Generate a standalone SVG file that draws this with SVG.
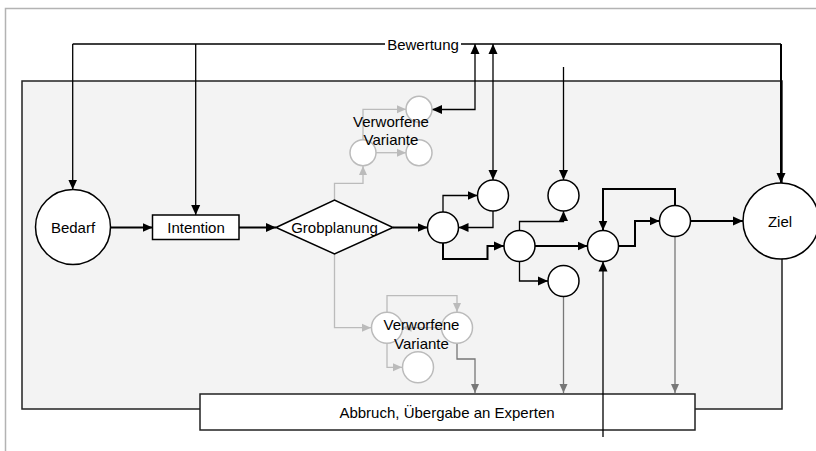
<svg xmlns="http://www.w3.org/2000/svg" width="816" height="451" viewBox="0 0 816 451">
<defs>
<marker id="ab" markerUnits="userSpaceOnUse" markerWidth="12" markerHeight="10" refX="10" refY="5" orient="auto-start-reverse"><path d="M0,0.5 L10,5 L0,9.5 Z" fill="#000"/></marker>
<marker id="ag" markerUnits="userSpaceOnUse" markerWidth="10" markerHeight="10" refX="9" refY="4.5" orient="auto"><path d="M0,0.5 L9,4.5 L0,8.5 Z" fill="#bbb"/></marker>
<marker id="ad" markerUnits="userSpaceOnUse" markerWidth="10" markerHeight="10" refX="9" refY="4.5" orient="auto"><path d="M0,0.5 L9,4.5 L0,8.5 Z" fill="#777"/></marker>
</defs>
<style>
text{font-family:"Liberation Sans",Arial,sans-serif;font-size:15px;fill:#000;text-anchor:middle}
.c{fill:none;stroke:#000;stroke-width:1.3}
.b{fill:none;stroke:#000;stroke-width:2}
.g{fill:none;stroke:#bbb;stroke-width:1.3}
.d{fill:none;stroke:#777;stroke-width:1.3}
.n{fill:#fff;stroke:#000;stroke-width:1.5}
.gn{fill:#fff;stroke:#bbb;stroke-width:1.5}
</style>
<rect x="5.5" y="8.5" width="830" height="460" fill="none" stroke="#b3b3b3" stroke-width="1.5"/>
<rect id="panel" x="22" y="81" width="760" height="328" fill="#f3f3f3" stroke="#222" stroke-width="1.5"/>
<g id="abbruch"><rect x="200" y="394" width="495" height="36" fill="#fff" stroke="#222" stroke-width="1.5"/><text x="447" y="417.5">Abbruch, Übergabe an Experten</text></g>
<g id="connectors">
<path class="g" d="M334.5,254 V327.7 H371" marker-end="url(#ag)"/>
<path class="g" d="M387,312 V295.7 H457 V312" marker-end="url(#ag)"/>
<path class="g" d="M387,343 V367.3 H402" marker-end="url(#ag)"/>
<path class="g" d="M441.5,327.7 H402.5" marker-end="url(#ag)"/>
<path class="g" d="M334.5,200 V183.3 H363 V166" marker-end="url(#ag)"/>
<path class="g" d="M363,139.7 V109.3 H406" marker-end="url(#ag)"/>
<path class="g" d="M376,152.7 H406" marker-end="url(#ag)"/>
<path class="d" d="M457,343 V359 H475 V393" marker-end="url(#ad)"/>
<path class="d" d="M563.5,296.5 V393" marker-end="url(#ad)"/>
<path class="d" d="M675,236.5 V393" marker-end="url(#ad)"/>
<path class="c" d="M72.7,44 H385 M461,44 H781"/>
<path class="c" d="M72.7,44 V189.5" marker-end="url(#ab)"/>
<path class="c" d="M195.7,44 V215" marker-end="url(#ab)"/>
<path class="c" d="M475,44 V109.5 H432" marker-start="url(#ab)" marker-end="url(#ab)"/>
<path class="c" d="M493,44 V180" marker-start="url(#ab)" marker-end="url(#ab)"/>
<path class="c" d="M563.5,67 V180" marker-end="url(#ab)"/>
<path class="b" d="M781,44 V183" marker-end="url(#ab)"/>
<path class="b" d="M110.5,227.5 H152.5" marker-end="url(#ab)"/>
<path class="b" d="M239,227.5 H276" marker-end="url(#ab)"/>
<path class="b" d="M393,227.5 H427.5" marker-end="url(#ab)"/>
<path class="c" d="M493,211 V227.5 H458.5" marker-end="url(#ab)"/>
<path class="c" d="M443,212 V195.5 H477.5" marker-end="url(#ab)"/>
<path class="b" d="M443,243 V259 H487.5 V246 H504" marker-end="url(#ab)"/>
<path class="c" d="M519.5,230.5 V221.5 H563.5 V211" marker-end="url(#ab)"/>
<path class="b" d="M535,246 H587.5" marker-end="url(#ab)"/>
<path class="c" d="M519.5,261.5 V281 H548" marker-end="url(#ab)"/>
<path class="b" d="M675,205.5 V189 H603 V230.5" marker-end="url(#ab)"/>
<path class="b" d="M618.5,246 H635 V221 H659.5" marker-end="url(#ab)"/>
<path class="b" d="M690.5,221 H743" marker-end="url(#ab)"/>
<path class="c" d="M603,437 V261.5" marker-end="url(#ab)"/>
</g>
<g id="bewertung"><text x="423" y="49.5">Bewertung</text></g>
<g id="bedarf"><circle class="n" cx="73" cy="227" r="37.5"/><text x="73" y="232.5">Bedarf</text></g>
<g id="intention"><rect class="n" x="152.5" y="215" width="86.5" height="24.5"/><text x="196" y="232.5">Intention</text></g>
<g id="grobplanung"><polygon class="n" points="276,227.5 334.5,200 393,227.5 334.5,254"/><text x="334.5" y="232.5">Grobplanung</text></g>
<g id="c1"><circle class="n" cx="443" cy="227.5" r="15.5"/></g>
<g id="c2"><circle class="n" cx="493" cy="195.5" r="15.5"/></g>
<g id="c3"><circle class="n" cx="519.5" cy="246" r="15.5"/></g>
<g id="c4"><circle class="n" cx="563.5" cy="195.5" r="15.5"/></g>
<g id="c5"><circle class="n" cx="563.5" cy="281" r="15.5"/></g>
<g id="c6"><circle class="n" cx="603" cy="246" r="15.5"/></g>
<g id="c7"><circle class="n" cx="675" cy="221" r="15.5"/></g>
<g id="ziel"><circle class="n" cx="781" cy="221" r="38"/><text x="780" y="226.5">Ziel</text></g>
<g id="verworfen-oben"><circle class="gn" cx="363" cy="152.7" r="13"/><circle class="gn" cx="419" cy="152.7" r="13"/><circle class="gn" cx="419" cy="109.3" r="13"/><text x="391" y="127">Verworfene</text><text x="391" y="145">Variante</text></g>
<g id="verworfen-unten"><circle class="gn" cx="387" cy="327.7" r="15.5"/><circle class="gn" cx="457" cy="327.7" r="15.5"/><circle class="gn" cx="418" cy="367.3" r="15.5"/><text x="421.5" y="330">Verworfene</text><text x="421.5" y="348.5">Variante</text></g>
</svg>
